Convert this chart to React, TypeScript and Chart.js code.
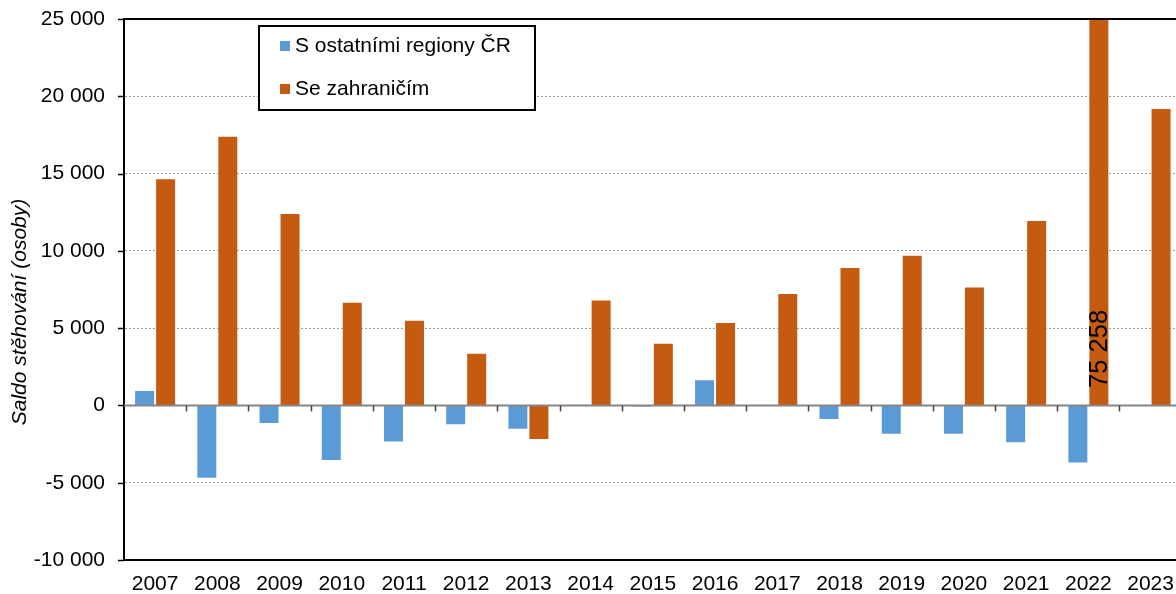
import React, { useEffect, useRef } from "react";
import { Chart, registerables } from "chart.js";

Chart.register(...registerables);

const years = ["2007", "2008", "2009", "2010", "2011", "2012", "2013", "2014", "2015", "2016", "2017", "2018", "2019", "2020", "2021", "2022", "2023"];
const regionsCR = [1000, -4750, -1200, -3600, -2400, -1280, -1580, 70, -100, 1700, 30, -950, -1900, -1900, -2450, -3750, -30];
const abroad = [14700, 17450, 12450, 6700, 5550, 3400, -2230, 6850, 4050, 5400, 7280, 8950, 9750, 7700, 12000, 75258, 19250];
const seriesLabels = ["S ostatními regiony ČR", "Se zahraničím"];
const seriesColors = ["#5B9BD5", "#C55A11"];
const yTitle = "Saldo stěhování (osoby)";
const yMin = -10000;
const yMax = 25000;
const yStep = 5000;

const FONT = "'Liberation Sans', Arial, sans-serif";

function fmt(v: number): string {
  const s = Math.abs(Math.round(v)).toString().replace(/\B(?=(\d{3})+(?!\d))/g, " ");
  return (v < 0 ? "-" : "") + s;
}

const decorPlugin = {
  id: "decor",
  afterDatasetsDraw(chart: any) {
    const { ctx, chartArea, scales } = chart;
    const x = scales.x;
    const y = scales.y;
    const y0 = y.getPixelForValue(0);
    ctx.save();
    ctx.strokeStyle = "#868686";
    ctx.lineWidth = 2;
    ctx.beginPath();
    ctx.moveTo(chartArea.left, y0);
    ctx.lineTo(chartArea.right, y0);
    ctx.stroke();
    ctx.strokeStyle = "#404040";
    ctx.lineWidth = 1.5;
    for (let i = 1; i < years.length; i++) {
      const xb = (x.getPixelForValue(i - 1) + x.getPixelForValue(i)) / 2;
      ctx.beginPath();
      ctx.moveTo(Math.round(xb) + 0.5, y0);
      ctx.lineTo(Math.round(xb) + 0.5, y0 + 6);
      ctx.stroke();
    }
    ctx.strokeStyle = "#000";
    ctx.lineWidth = 2;
    ctx.beginPath();
    ctx.moveTo(chartArea.left, chartArea.top);
    ctx.lineTo(chartArea.right, chartArea.top);
    ctx.stroke();
    ctx.lineWidth = 1.5;
    for (let v = yMin; v <= yMax; v += yStep) {
      const py = Math.round(y.getPixelForValue(v)) + 0.5;
      ctx.beginPath();
      ctx.moveTo(chartArea.left - 6, py);
      ctx.lineTo(chartArea.left, py);
      ctx.stroke();
    }
    const meta = chart.getDatasetMeta(1);
    abroad.forEach((v, i) => {
      if (v > yMax) {
        const bar = meta.data[i];
        ctx.save();
        ctx.translate(bar.x + 1, y0 - 17.5);
        ctx.rotate(-Math.PI / 2);
        ctx.font = `25.5px ${FONT}`;
        ctx.fillStyle = "#000";
        ctx.textAlign = "left";
        ctx.textBaseline = "middle";
        ctx.fillText(fmt(v), 0, 0);
        ctx.restore();
      }
    });
    ctx.restore();
  },
  afterDraw(chart: any) {
    const { ctx } = chart;
    ctx.save();
    ctx.translate(20, 312);
    ctx.rotate(-Math.PI / 2);
    ctx.font = `italic 21px ${FONT}`;
    ctx.fillStyle = "#000";
    ctx.textAlign = "center";
    ctx.textBaseline = "middle";
    ctx.fillText(yTitle, 0, 0);
    ctx.restore();
    ctx.save();
    ctx.fillStyle = "#fff";
    ctx.fillRect(258, 25, 278, 86);
    ctx.strokeStyle = "#000";
    ctx.lineWidth = 2;
    ctx.strokeRect(259, 26, 276, 84);
    ctx.font = `21px ${FONT}`;
    ctx.textAlign = "left";
    ctx.textBaseline = "middle";
    const rowsY = [46, 89];
    seriesLabels.forEach((lab, i) => {
      ctx.fillStyle = seriesColors[i];
      ctx.fillRect(280, rowsY[i] - 5, 10, 10);
      ctx.fillStyle = "#000";
      ctx.fillText(lab, 295, rowsY[i]);
    });
    ctx.restore();
  },
};

const bgPlugin = {
  id: "bg",
  beforeDraw(chart: any) {
    const { ctx, width, height } = chart;
    ctx.save();
    ctx.fillStyle = "#fff";
    ctx.fillRect(0, 0, width, height);
    ctx.restore();
  },
};

export default function App() {
  const ref = useRef<HTMLCanvasElement | null>(null);
  useEffect(() => {
    if (!ref.current) return;
    const chart = new Chart(ref.current, {
      type: "bar",
      data: {
        labels: years,
        datasets: [
          {
            label: seriesLabels[0],
            data: regionsCR,
            backgroundColor: seriesColors[0],
            borderColor: "rgba(255,255,255,0.35)",
            borderWidth: 1,
            categoryPercentage: 0.675,
            barPercentage: 1,
          },
          {
            label: seriesLabels[1],
            data: abroad,
            backgroundColor: seriesColors[1],
            borderColor: "rgba(255,255,255,0.35)",
            borderWidth: 1,
            categoryPercentage: 0.675,
            barPercentage: 1,
          },
        ],
      },
      options: {
        responsive: false,
        animation: false,
        devicePixelRatio: 1,
        layout: { padding: { top: 19, right: 2, left: 0, bottom: 0 } },
        plugins: { legend: { display: false }, tooltip: { enabled: false } },
        scales: {
          x: {
            offset: true,
            grid: { display: false, drawTicks: false },
            border: { display: true, color: "#000", width: 2 },
            ticks: { color: "#000", font: { family: FONT, size: 21 }, padding: 12, maxRotation: 0, autoSkip: false },
            afterFit: (s: any) => { s.height = 34; },
          },
          y: {
            min: yMin,
            max: yMax,
            grid: {
              color: (c: any) => (c.tick && (c.tick.value === 0 || c.tick.value === yMax || c.tick.value === yMin) ? "rgba(0,0,0,0)" : "#9a9a9a"),
              lineWidth: 1,
              drawTicks: false,
            },
            border: { display: true, color: "#000", width: 2, dash: [2, 2] },
            ticks: {
              stepSize: yStep,
              color: "#000",
              font: { family: FONT, size: 21 },
              padding: 19,
              callback: (v: any) => fmt(Number(v)),
            },
            afterFit: (s: any) => { s.width = 124; s.paddingTop = 0; s.paddingBottom = 0; },
          },
        },
      },
      plugins: [bgPlugin, decorPlugin],
    } as any);
    return () => chart.destroy();
  }, []);
  return (
    <div style={{ position: "fixed", left: 0, top: 0, width: 1176, height: 594, overflow: "hidden", background: "#fff" }}>
      <canvas ref={ref} width={1186} height={594} style={{ display: "block", width: 1186, height: 594 }} />
    </div>
  );
}
